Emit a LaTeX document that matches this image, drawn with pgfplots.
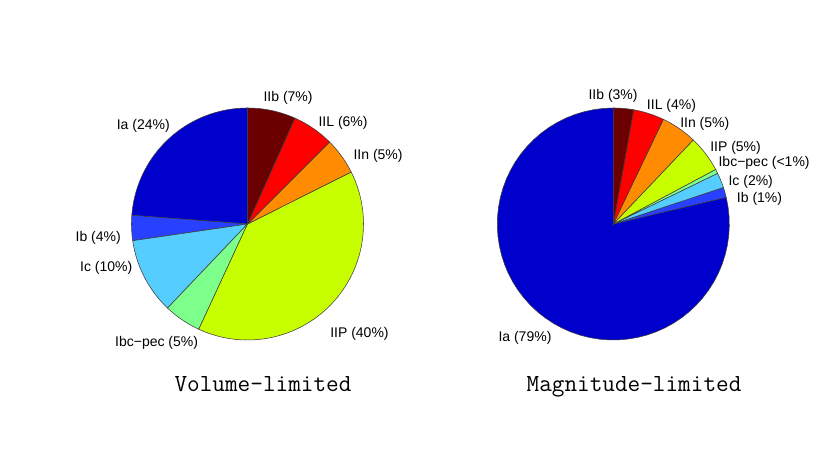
\documentclass[border=0pt]{standalone}
\usepackage{pgfplots}
\usepackage{pgfplotstable}
\pgfplotsset{compat=1.18}
\usepackage{fontspec}
\setmainfont{Liberation Sans}

% jet-like slice colours
\definecolor{cIa}{RGB}{0,0,204}
\definecolor{cIb}{RGB}{40,64,255}
\definecolor{cIc}{RGB}{85,206,255}
\definecolor{cIbc}{RGB}{125,255,140}
\definecolor{cIIP}{RGB}{200,255,0}
\definecolor{cIIn}{RGB}{255,140,0}
\definecolor{cIIL}{RGB}{255,0,0}
\definecolor{cIIb}{RGB}{107,0,0}
\definecolor{edgegray}{RGB}{60,60,60}

% percentages, counter-clockwise from the top
\pgfplotstableread{
pct   color
23.8  cIa
3.5   cIb
10.6  cIc
5.2   cIbc
39.3  cIIP
5.1   cIIn
5.8   cIIL
6.7   cIIb
}\volumetable

\pgfplotstableread{
pct   color
78.7  cIa
1.4   cIb
2.1   cIc
0.6   cIbc
5.1   cIIP
5.0   cIIn
4.3   cIIL
2.8   cIIb
}\magtable

\def\u{0.75pt}

\newcommand{\drawpie}[1]{%
  \pgfplotstablegetrowsof{#1}%
  \pgfmathtruncatemacro\nrows{\pgfplotsretval-1}%
  \def\angstart{90}%
  \pgfplotsforeachungrouped \i in {0,...,\nrows}{%
    \pgfplotstablegetelem{\i}{pct}\of{#1}\let\pct\pgfplotsretval
    \pgfplotstablegetelem{\i}{color}\of{#1}\let\col\pgfplotsretval
    \pgfmathsetmacro\angend{\angstart+3.6*\pct}%
    \edef\doslice{\noexpand\addplot[draw=edgegray, line width=0.4pt,
      fill=\col, domain=\angstart:\angend, samples=60,
      variable=\noexpand\t]
      ({cos(\noexpand\t)},{sin(\noexpand\t)}) -- (axis cs:0,0) -- cycle;}%
    \doslice
    \let\angstart\angend
  }%
}

\newcommand{\lbl}[4]{%
  \node[anchor=#3, inner sep=0pt, font=\fontsize{10.5}{12}\selectfont]
    at ({#1*\u},{-(#2+1.5)*\u}) {#4};}

\pgfplotsset{pie/.style={
  scale only axis, width=174pt, height=174pt,
  xmin=-1, xmax=1, ymin=-1, ymax=1,
  hide axis, clip=false, anchor=center}}

\begin{document}
\begin{tikzpicture}
\path[use as bounding box] (0,0) rectangle ({830*\u},{-466*\u});

\begin{axis}[pie, at={({247.5*\u},{-224*\u})}]
\drawpie{\volumetable}
\end{axis}

\begin{axis}[pie, at={({613.3*\u},{-224*\u})}]
\drawpie{\magtable}
\end{axis}

% labels, left pie
\lbl{170}{124}{east}{Ia (24\%)}
\lbl{121}{236}{east}{Ib (4\%)}
\lbl{132.5}{266}{east}{Ic (10\%)}
\lbl{198.3}{341}{east}{Ibc−pec (5\%)}
\lbl{330}{332.5}{west}{IIP (40\%)}
\lbl{353.3}{154}{west}{IIn (5\%)}
\lbl{318.3}{121}{west}{IIL (6\%)}
\lbl{263.3}{96}{west}{IIb (7\%)}

% labels, right pie
\lbl{551.7}{336}{east}{Ia (79\%)}
\lbl{736.7}{197}{west}{Ib (1\%)}
\lbl{728.3}{180}{west}{Ic (2\%)}
\lbl{718.3}{161.5}{west}{Ibc−pec (<1\%)}
\lbl{710}{146}{west}{IIP (5\%)}
\lbl{680}{122.5}{west}{IIn (5\%)}
\lbl{646.7}{104}{west}{IIL (4\%)}
\lbl{588.3}{94}{west}{IIb (3\%)}

% titles
\node[anchor=base, inner sep=0pt, font=\ttfamily\fontsize{18.4}{20}\selectfont]
  at ({263*\u},{-391*\u}) {Volume-limited};
\node[anchor=base, inner sep=0pt, font=\ttfamily\fontsize{18.4}{20}\selectfont]
  at ({634*\u},{-391*\u}) {Magnitude-limited};
\end{tikzpicture}
\end{document}
